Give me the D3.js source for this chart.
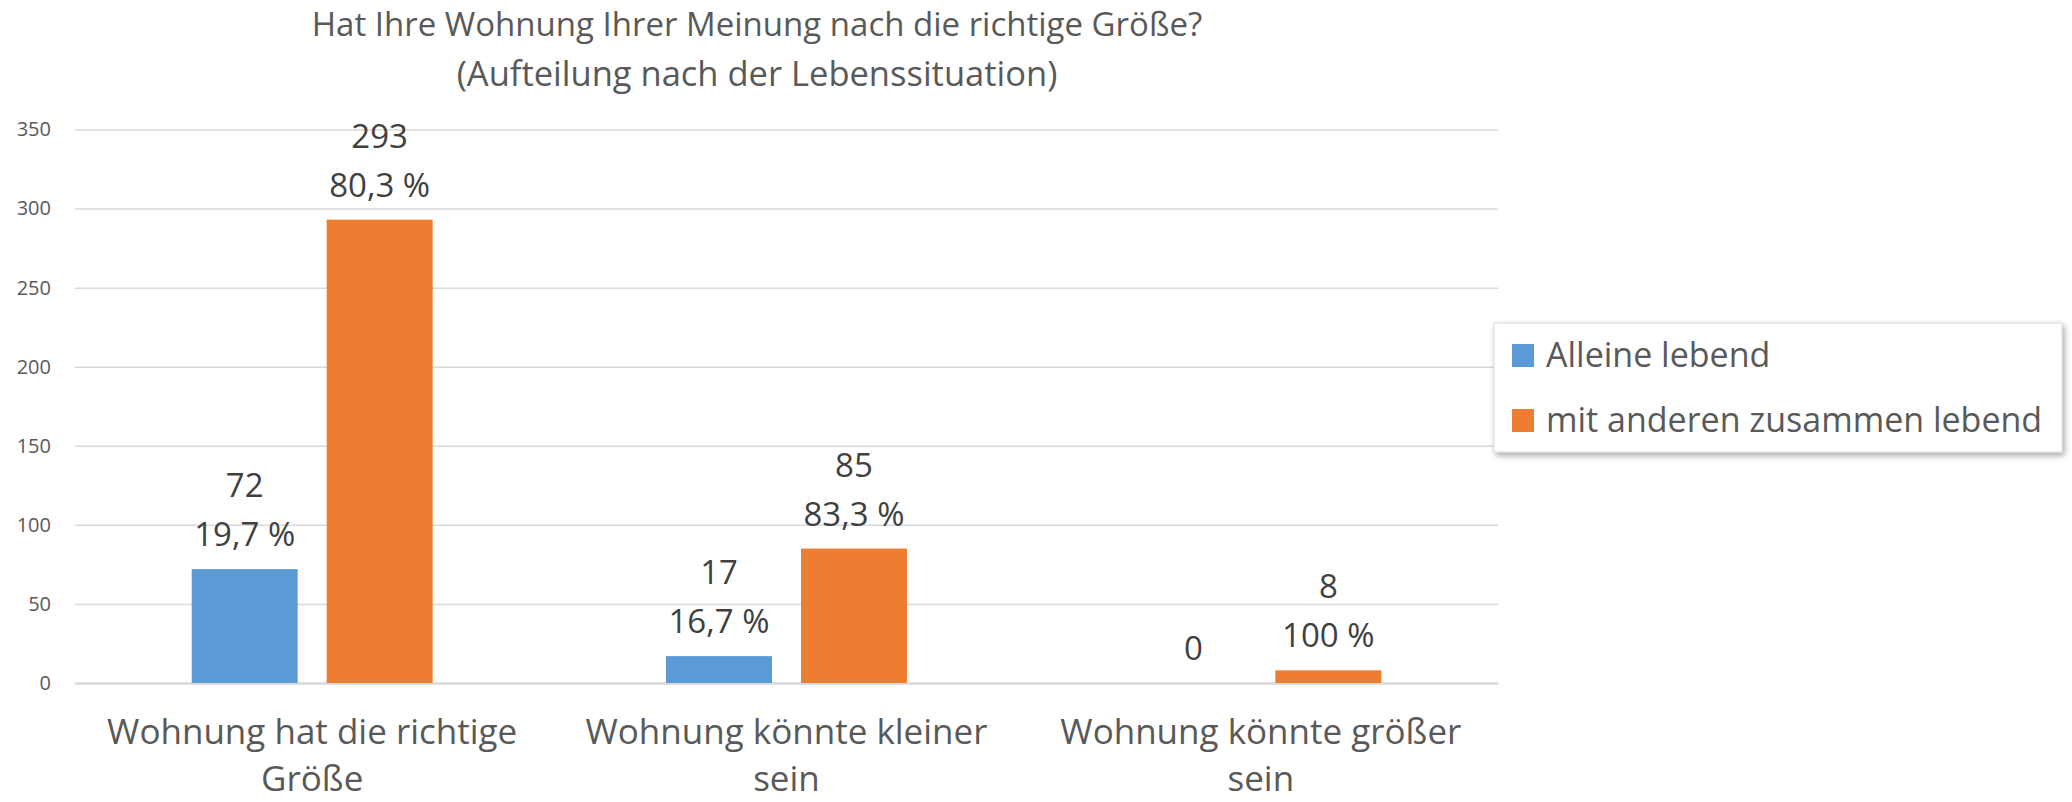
<!DOCTYPE html>
<html><head><meta charset="utf-8">
<script src="https://cdn.jsdelivr.net/npm/d3@7"></script>
<style>
html,body{margin:0;padding:0;background:#fff;}
svg{display:block;font-family:"Open Sans",sans-serif;}
</style></head>
<body><svg id="chart" width="2072" height="802"></svg>
<script>
const title = ["Hat Ihre Wohnung Ihrer Meinung nach die richtige Größe?", "(Aufteilung nach der Lebenssituation)"];
const categories = ["Wohnung hat die richtige Größe", "Wohnung könnte kleiner sein", "Wohnung könnte größer sein"];
const categoryLines = [["Wohnung hat die richtige", "Größe"], ["Wohnung könnte kleiner", "sein"], ["Wohnung könnte größer", "sein"]];
const seriesNames = ["Alleine lebend", "mit anderen zusammen lebend"];
const seriesColors = ["#5B9BD5", "#ED7D31"];
const alleineValues = [72, 17, 0];
const mitAnderenValues = [293, 85, 8];
const alleinePct = ["19,7 %", "16,7 %", ""];
const mitAnderenPct = ["80,3 %", "83,3 %", "100 %"];
const yTicks = [0, 50, 100, 150, 200, 250, 300, 350];

const svg = d3.select("#chart");
const plot = {left: 75, right: 1498, top: 129.5, bottom: 683};

const x0 = d3.scaleBand().domain(categories).range([plot.left, plot.right]).paddingInner(0).paddingOuter(0);
const groupW = x0.bandwidth() * 0.508;
const x1 = d3.scaleBand().domain(seriesNames).range([0, groupW]).paddingInner(0.215).paddingOuter(0);
const y = d3.scaleLinear().domain([0, 350]).range([plot.bottom, plot.top]);

// gridlines
const yAxis = d3.axisLeft(y).tickValues(yTicks).tickSize(-(plot.right - plot.left)).tickPadding(24);
const gy = svg.append("g").attr("transform", `translate(${plot.left},0)`).call(yAxis);
gy.select(".domain").remove();
gy.selectAll(".tick line").attr("stroke", "#d9d9d9").attr("stroke-width", d => d === 0 ? 2.5 : 1.5);
gy.selectAll(".tick text").attr("fill", "#595959").attr("font-size", 20).attr("font-family", "Open Sans, sans-serif");

// bars
const data = categories.map((c, i) => ({
  cat: c,
  vals: [
    {s: seriesNames[0], v: alleineValues[i], p: alleinePct[i], color: seriesColors[0]},
    {s: seriesNames[1], v: mitAnderenValues[i], p: mitAnderenPct[i], color: seriesColors[1]}
  ]
}));

const groups = svg.append("g").selectAll("g").data(data).join("g")
  .attr("transform", d => `translate(${x0(d.cat) + (x0.bandwidth() - groupW) / 2},0)`);

groups.selectAll("rect").data(d => d.vals).join("rect")
  .attr("x", d => x1(d.s))
  .attr("width", x1.bandwidth())
  .attr("y", d => y(d.v))
  .attr("height", d => y(0) - y(d.v))
  .attr("fill", d => d.color);

// data labels
const lbl = groups.selectAll("g.lbl").data(d => d.vals).join("g").attr("class", "lbl");
lbl.each(function(d) {
  const g = d3.select(this);
  const cx = x1(d.s) + x1.bandwidth() / 2;
  const base = y(d.v) - 23;
  if (d.p) {
    g.append("text").attr("x", cx).attr("y", base - 49).text(d.v);
    g.append("text").attr("x", cx).attr("y", base).text(d.p);
  } else {
    g.append("text").attr("x", cx).attr("y", base).text(d.v);
  }
  g.selectAll("text").attr("text-anchor", "middle").attr("font-size", 33).attr("fill", "#404040");
});

// category labels
const cl = svg.append("g").selectAll("text").data(categories).join("text")
  .attr("text-anchor", "middle")
  .attr("font-size", 35)
  .attr("fill", "#595959");
cl.each(function(c, i) {
  const t = d3.select(this);
  categoryLines[i].forEach((line, j) => {
    t.append("tspan").attr("x", x0(c) + x0.bandwidth() / 2).attr("y", 744 + j * 47).text(line);
  });
});

// title
svg.append("g").selectAll("text").data(title).join("text")
  .attr("x", 757).attr("y", (d, i) => 36 + i * 50)
  .attr("text-anchor", "middle").attr("font-size", (d, i) => i === 0 ? 33 : 34.5).attr("fill", "#595959")
  .text(d => d);

// legend
const defs = svg.append("defs");
const f = defs.append("filter").attr("id", "shadow").attr("x", "-10%").attr("y", "-20%").attr("width", "120%").attr("height", "150%");
f.append("feDropShadow").attr("dx", 2).attr("dy", 3).attr("stdDeviation", 3).attr("flood-color", "#000").attr("flood-opacity", 0.35);
const leg = svg.append("g").attr("transform", "translate(1494,323)");
leg.append("rect").attr("width", 568).attr("height", 129).attr("fill", "#fff").attr("stroke", "#d9d9d9").attr("filter", "url(#shadow)");
const li = leg.selectAll("g.item").data(seriesNames).join("g").attr("class", "item")
  .attr("transform", (d, i) => `translate(18,${21 + i * 65})`);
li.append("rect").attr("width", 22).attr("height", 23).attr("fill", (d, i) => seriesColors[i]);
li.append("text").attr("x", 34).attr("y", 23).attr("font-size", 34).attr("fill", "#595959").text(d => d);
</script>
</body></html>
